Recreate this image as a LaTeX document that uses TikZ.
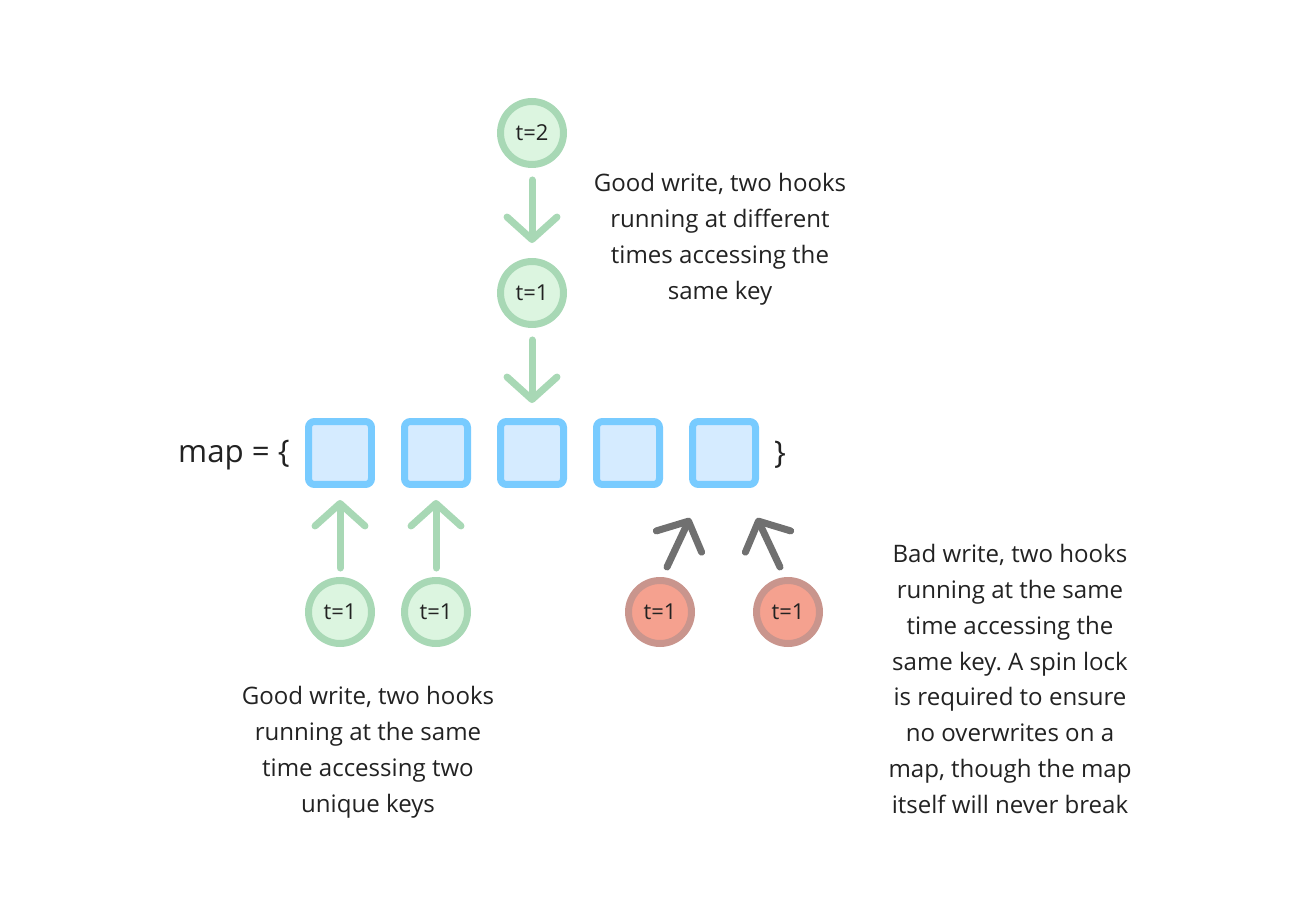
\documentclass[tikz,border=0pt]{standalone}
\usepackage{fontspec}
\setmainfont{Open Sans}
\usetikzlibrary{arrows.meta, positioning}

\definecolor{verdeBordo}{HTML}{A8D8B5}
\definecolor{verdeFondo}{HTML}{DCF5E0}
\definecolor{bluBordo}{HTML}{78CBFF}
\definecolor{bluFondo}{HTML}{D5EBFF}
\definecolor{rossoBordo}{HTML}{C9958D}
\definecolor{rossoFondo}{HTML}{F5A18F}
\definecolor{grigioFreccia}{HTML}{707070}
\definecolor{testo}{HTML}{222222}

\frenchspacing

\begin{document}
\begin{tikzpicture}[x=0.02cm, y=-0.02cm,
    buono/.style={circle, draw=verdeBordo, fill=verdeFondo, line width=0.14cm,
        minimum size=1.26cm, inner sep=0pt, text=testo, font=\fontsize{12.5}{14}\selectfont},
    cattivo/.style={buono, draw=rossoBordo, fill=rossoFondo},
    cella/.style={rectangle, rounded corners=0.12cm, draw=bluBordo, fill=bluFondo,
        line width=0.14cm, minimum size=1.26cm, inner sep=0pt},
    freccia/.style={line width=0.14cm, line cap=round, draw=verdeBordo,
        -{Straight Barb[length=0.45cm, width=1.0cm, round]}},
    frecciaGrigia/.style={freccia, draw=grigioFreccia},
    nota/.style={align=center, text=testo, font=\fontsize{13.7}{20.4}\selectfont}
]

        % area del disegno
        \useasboundingbox (0,0) rectangle (1304,908);

        % ==========================================
        % MAPPA: celle
        % ==========================================
        \foreach \i/\x in {1/340, 2/436, 3/532, 4/628, 5/724} {
            \node[cella] (k\i) at (\x,453) {};
        }
        \node[text=testo, font=\fontsize{17.8}{20}\selectfont, anchor=east] (apri) at (296,455) {map = \{};
        \node[text=testo, font=\fontsize{17.8}{20}\selectfont, anchor=west] (chiudi) at (768,455) {\}};

        % ==========================================
        % IN ALTO: stessa chiave, tempi diversi
        % ==========================================
        \node[buono] (a2) at (532,133) {t=2};
        \node[buono] (a1) at (532,293) {t=1};

        \draw[freccia, shorten <=0.24cm, shorten >=0.3cm] (a2) -- (a1);
        \draw[freccia, shorten <=0.24cm, shorten >=0.3cm] (a1) -- (k3);

        \node[nota] (notaAlto) at (720,239) {Good write, two hooks\\running at different\\times accessing the\\same key};

        % ==========================================
        % IN BASSO A SINISTRA: chiavi diverse
        % ==========================================
        \node[buono] (b1) at (340,612) {t=1};
        \node[buono] (b2) at (436,612) {t=1};

        \draw[freccia, shorten <=0.18cm, shorten >=0.24cm] (b1) -- (k1);
        \draw[freccia, shorten <=0.18cm, shorten >=0.24cm] (b2) -- (k2);

        \node[nota] (notaSinistra) at (368,752) {Good write, two hooks\\running at the same\\time accessing two\\unique keys};

        % ==========================================
        % IN BASSO A DESTRA: stessa chiave, stesso tempo
        % ==========================================
        \node[cattivo] (r1) at (660,612) {t=1};
        \node[cattivo] (r2) at (788,612) {t=1};

        % frecce oblique verso la stessa cella
        \coordinate (r1s) at (667,567);
        \coordinate (r1e) at (690,518);
        \coordinate (r2s) at (780,567);
        \coordinate (r2e) at (757,518);
        \draw[frecciaGrigia] (r1s) -- (r1e);
        \draw[frecciaGrigia] (r2s) -- (r2e);

        \node[nota] (notaDestra) at (1010,679) {Bad write, two hooks\\running at the same\\time accessing the\\same key. A spin lock\\is required to ensure\\no overwrites on a\\map, though the map\\itself will never break};

    \end{tikzpicture}
\end{document}
